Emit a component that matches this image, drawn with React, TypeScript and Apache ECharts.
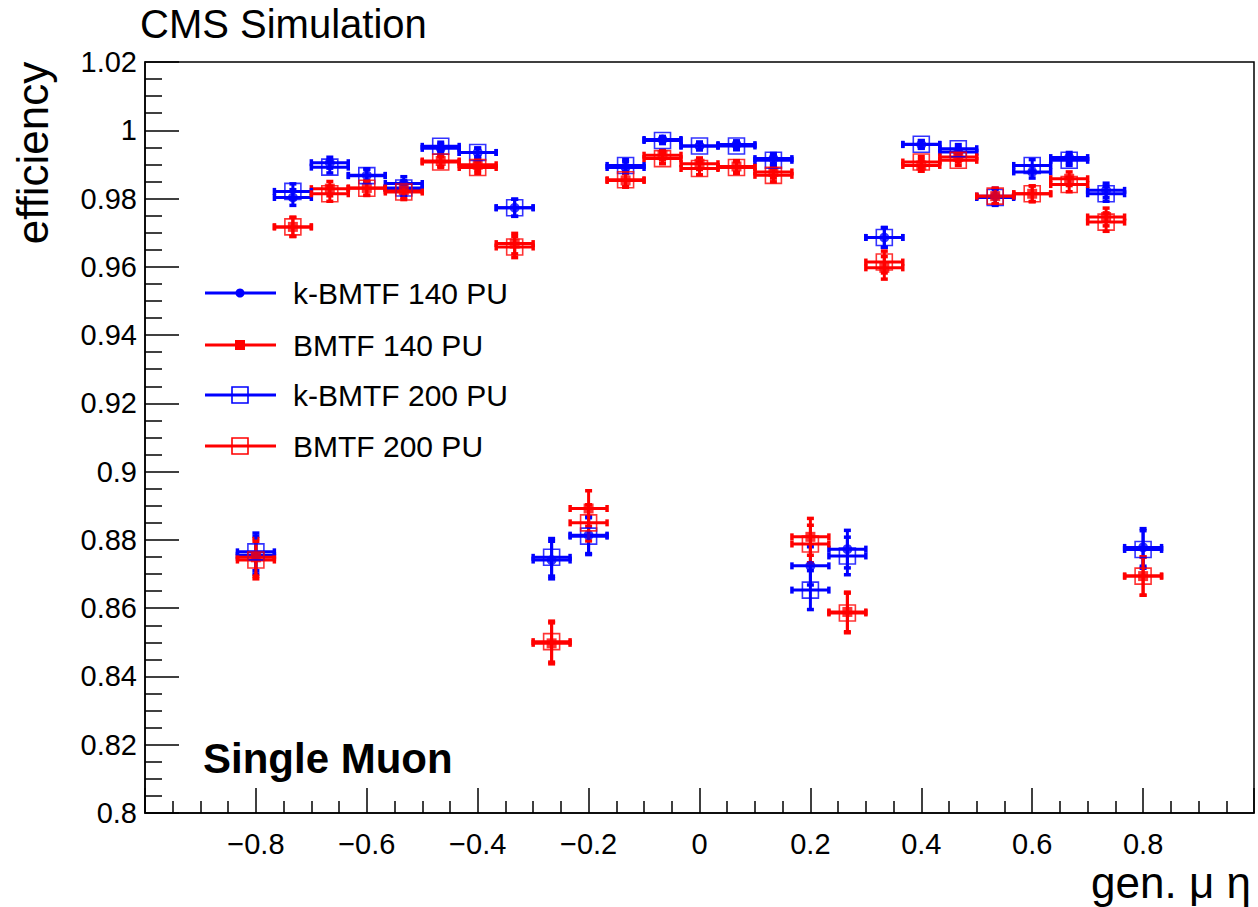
import React, { useEffect, useRef } from "react";
import * as echarts from "echarts";

// gen. muon eta bin centres
const etaBins = [
  -0.8, -0.7333, -0.6667, -0.6, -0.5333, -0.4667, -0.4, -0.3333, -0.2667, -0.2,
  -0.1333, -0.0667, 0, 0.0667, 0.1333, 0.2, 0.2667, 0.3333, 0.4, 0.4667,
  0.5333, 0.6, 0.6667, 0.7333, 0.8,
];
const etaHalfWidth = 0.0333;

const kbmtf140 = [
  0.8755, 0.9803, 0.9905, 0.9868, 0.9844, 0.9947, 0.9935, 0.9773, 0.8741, 0.8814,
  0.9891, 0.9973, 0.9954, 0.9958, 0.9917, 0.8724, 0.8773, 0.9686, 0.9958, 0.9936,
  0.9807, 0.9878, 0.992, 0.9824, 0.8778,
];
const kbmtf140Err = [
  0.0055, 0.0023, 0.0016, 0.0019, 0.002, 0.0012, 0.0013, 0.0025, 0.0055, 0.0054,
  0.0017, 0.0009, 0.0011, 0.0011, 0.0015, 0.0056, 0.0055, 0.0029, 0.0011, 0.0013,
  0.0023, 0.0018, 0.0015, 0.0021, 0.0055,
];

const bmtf140 = [
  0.8749, 0.9717, 0.9829, 0.9831, 0.9824, 0.991, 0.9899, 0.9668, 0.8497, 0.8892,
  0.9853, 0.9927, 0.9902, 0.9894, 0.9878, 0.8809, 0.8589, 0.9597, 0.9897, 0.9922,
  0.9807, 0.9814, 0.9858, 0.9746, 0.8694,
];
const bmtf140Err = [
  0.0055, 0.0028, 0.0021, 0.0021, 0.0021, 0.0016, 0.0017, 0.003, 0.006, 0.0052,
  0.002, 0.0014, 0.0017, 0.0017, 0.0018, 0.0054, 0.0058, 0.0033, 0.0017, 0.0015,
  0.0023, 0.0023, 0.002, 0.0026, 0.0056,
];

const kbmtf200 = [
  0.8765, 0.9821, 0.9892, 0.9867, 0.9831, 0.9953, 0.9935, 0.9773, 0.8749, 0.8811,
  0.9897, 0.997, 0.9954, 0.9954, 0.9912, 0.8653, 0.8753, 0.9686, 0.9959, 0.9946,
  0.9803, 0.9897, 0.9912, 0.9814, 0.8772,
];
const kbmtf200Err = [
  0.0055, 0.0022, 0.0017, 0.0019, 0.0021, 0.0012, 0.0013, 0.0025, 0.0055, 0.0054,
  0.0017, 0.0009, 0.0011, 0.0011, 0.0015, 0.0057, 0.0055, 0.0029, 0.0011, 0.0012,
  0.0023, 0.0017, 0.0015, 0.0022, 0.0055,
];

const bmtf200 = [
  0.8741, 0.9717, 0.9814, 0.983, 0.9819, 0.9907, 0.9891, 0.9658, 0.8502, 0.885,
  0.9855, 0.9917, 0.9888, 0.9891, 0.9868, 0.8788, 0.8586, 0.9614, 0.9907, 0.9912,
  0.9807, 0.9814, 0.9841, 0.9731, 0.8694,
];
const bmtf200Err = [
  0.0055, 0.0028, 0.0022, 0.0021, 0.0022, 0.0016, 0.0017, 0.0031, 0.006, 0.0053,
  0.002, 0.0015, 0.0018, 0.0017, 0.0019, 0.0055, 0.0058, 0.0032, 0.0016, 0.0015,
  0.0023, 0.0023, 0.0021, 0.0027, 0.0056,
];

const legendLabels = ["k-BMTF 140 PU", "BMTF 140 PU", "k-BMTF 200 PU", "BMTF 200 PU"];

const BLUE = "#0000ff";
const RED = "#ff0000";
const FONT = "'Liberation Sans', Arial, Helvetica, sans-serif";

function errorSeries(name: string, values: number[], errs: number[], color: string) {
  return {
    type: "custom",
    name,
    clip: true,
    data: etaBins.map((x, i) => [x, values[i], errs[i]]),
    encode: { x: 0, y: 1 },
    renderItem: (params: any, api: any) => {
      const x = api.value(0);
      const y = api.value(1);
      const e = api.value(2);
      const l = api.coord([x - etaHalfWidth, y]);
      const r = api.coord([x + etaHalfWidth, y]);
      const t = api.coord([x, y + e]);
      const b = api.coord([x, y - e]);
      const c = 3.5;
      const style = { stroke: color, lineWidth: 3, fill: "none" };
      const capStyle = { stroke: color, lineWidth: 3.5, fill: "none" };
      return {
        type: "group",
        children: [
          { type: "line", shape: { x1: l[0], y1: l[1], x2: r[0], y2: r[1] }, style },
          { type: "line", shape: { x1: t[0], y1: t[1], x2: b[0], y2: b[1] }, style },
          { type: "line", shape: { x1: l[0], y1: l[1] - c, x2: l[0], y2: l[1] + c }, style: capStyle },
          { type: "line", shape: { x1: r[0], y1: r[1] - c, x2: r[0], y2: r[1] + c }, style: capStyle },
          { type: "line", shape: { x1: t[0] - c, y1: t[1], x2: t[0] + c, y2: t[1] }, style: capStyle },
          { type: "line", shape: { x1: b[0] - c, y1: b[1], x2: b[0] + c, y2: b[1] }, style: capStyle },
        ],
      };
    },
  };
}

function markerSeries(name: string, values: number[], symbol: string, size: number, color: string, open: boolean) {
  return {
    type: "scatter",
    name,
    data: etaBins.map((x, i) => [x, values[i]]),
    symbol,
    symbolSize: size,
    itemStyle: open
      ? { color: "rgba(0,0,0,0)", borderColor: color, borderWidth: 1.6 }
      : { color },
    emphasis: { disabled: true },
  };
}

function fmtY(v: number) {
  return String(Number(v.toFixed(2)));
}
function fmtX(v: number) {
  if (Math.abs(v) > 0.9) return "";
  const s = String(Number(v.toFixed(1)));
  return s.startsWith("-") ? "\u2212" + s.slice(1) : s;
}

const legendRows = [293, 345, 395, 446];

export default function App() {
  const ref = useRef<HTMLDivElement>(null);
  useEffect(() => {
    if (!ref.current) return;
    const chart = echarts.init(ref.current, undefined, { renderer: "svg" });

    const legendGraphics: any[] = [];
    const colors = [BLUE, RED, BLUE, RED];
    legendLabels.forEach((label, i) => {
      const cy = legendRows[i];
      legendGraphics.push({
        type: "line",
        shape: { x1: 205, y1: cy, x2: 276, y2: cy },
        style: { stroke: colors[i], lineWidth: 3 },
      });
      if (i === 0) {
        legendGraphics.push({ type: "circle", shape: { cx: 240, cy, r: 4.5 }, style: { fill: BLUE } });
      } else if (i === 1) {
        legendGraphics.push({ type: "rect", shape: { x: 235, y: cy - 5, width: 10, height: 10 }, style: { fill: RED } });
      } else {
        legendGraphics.push({
          type: "rect",
          shape: { x: 232, y: cy - 8, width: 16, height: 16 },
          style: { fill: "none", stroke: colors[i], lineWidth: 1.6 },
        });
      }
      legendGraphics.push({
        type: "text",
        x: 293,
        y: cy,
        style: { text: label, fontSize: 30, fontFamily: FONT, fill: "#000", align: "left", verticalAlign: "middle" },
      });
    });

    chart.setOption({
      animation: false,
      backgroundColor: "#fff",
      grid: { left: 145, top: 62, right: 4, bottom: 94, show: true, borderColor: "#000", borderWidth: 1.5, backgroundColor: "transparent" },
      xAxis: {
        type: "value",
        min: -1,
        max: 1,
        interval: 0.2,
        axisLine: { show: true, onZero: false, lineStyle: { color: "#000", width: 1.5 } },
        axisTick: { show: true, inside: true, length: 25, lineStyle: { color: "#000", width: 1.5 } },
        minorTick: { show: true, splitNumber: 4, length: 12, lineStyle: { color: "#000", width: 1.5 } },
        splitLine: { show: false },
        axisLabel: { formatter: fmtX, fontSize: 29, fontFamily: FONT, color: "#000", margin: 16 },
      },
      yAxis: {
        type: "value",
        min: 0.8,
        max: 1.02,
        interval: 0.02,
        axisLine: { show: true, onZero: false, lineStyle: { color: "#000", width: 1.5 } },
        axisTick: { show: true, inside: true, length: 34, lineStyle: { color: "#000", width: 1.5 } },
        minorTick: { show: true, splitNumber: 4, length: 17, lineStyle: { color: "#000", width: 1.5 } },
        splitLine: { show: false },
        axisLabel: { formatter: fmtY, fontSize: 29, fontFamily: FONT, color: "#000", margin: 8 },
      },
      series: [
        errorSeries("k-BMTF 140 PU err", kbmtf140, kbmtf140Err, BLUE),
        markerSeries("k-BMTF 140 PU", kbmtf140, "circle", 10, BLUE, false),
        errorSeries("BMTF 140 PU err", bmtf140, bmtf140Err, RED),
        markerSeries("BMTF 140 PU", bmtf140, "rect", 10, RED, false),
        errorSeries("k-BMTF 200 PU err", kbmtf200, kbmtf200Err, BLUE),
        markerSeries("k-BMTF 200 PU", kbmtf200, "rect", 16, BLUE, true),
        errorSeries("BMTF 200 PU err", bmtf200, bmtf200Err, RED),
        markerSeries("BMTF 200 PU", bmtf200, "rect", 16, RED, true),
      ],
      graphic: [
        {
          type: "text",
          x: 140,
          y: 24,
          style: { text: "CMS Simulation", fontSize: 40, fontFamily: FONT, fill: "#000", align: "left", verticalAlign: "middle" },
        },
        {
          type: "text",
          x: 32,
          y: 153,
          rotation: Math.PI / 2,
          style: { text: "efficiency", fontSize: 44, fontFamily: FONT, fill: "#000", align: "center", verticalAlign: "middle" },
        },
        {
          type: "text",
          x: 1251,
          y: 882,
          style: { text: "gen. \u03bc \u03b7", fontSize: 44, fontFamily: FONT, fill: "#000", align: "right", verticalAlign: "middle" },
        },
        {
          type: "text",
          x: 203,
          y: 758,
          style: { text: "Single Muon", fontSize: 42, fontWeight: "bold", fontFamily: FONT, fill: "#000", align: "left", verticalAlign: "middle" },
        },
        ...legendGraphics,
      ],
    });
    return () => chart.dispose();
  }, []);
  return (
    <div
      ref={ref}
      style={{ position: "fixed", left: 0, top: 0, width: 1258, height: 907, background: "#fff" }}
    />
  );
}
